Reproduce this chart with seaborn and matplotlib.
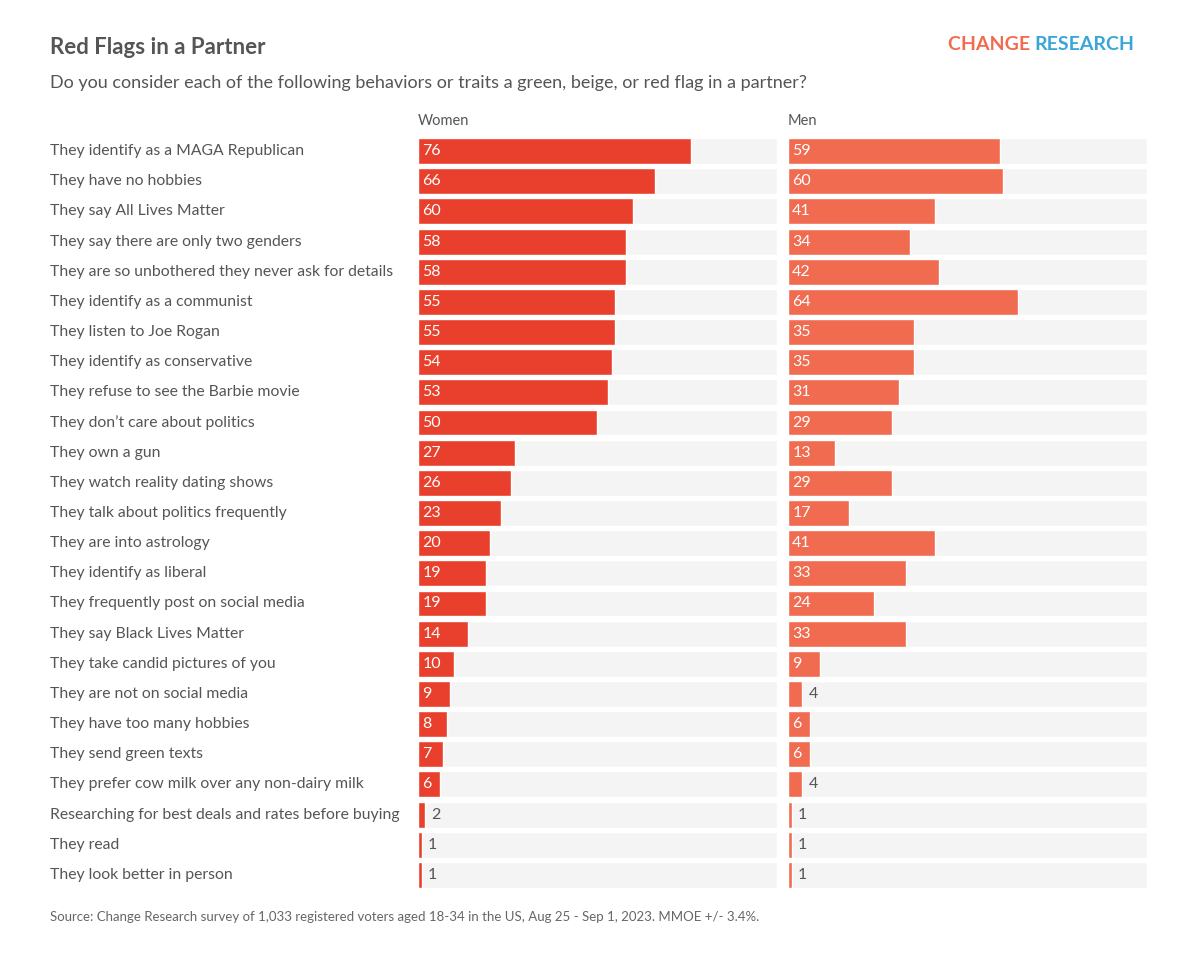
import matplotlib
matplotlib.use("Agg")
import matplotlib.pyplot as plt
import seaborn as sns
import pandas as pd

categories = ["They identify as a MAGA Republican","They have no hobbies","They say All Lives Matter",
"They say there are only two genders","They are so unbothered they never ask for details",
"They identify as a communist","They listen to Joe Rogan","They identify as conservative",
"They refuse to see the Barbie movie","They don\u2019t care about politics","They own a gun",
"They watch reality dating shows","They talk about politics frequently","They are into astrology",
"They identify as liberal","They frequently post on social media","They say Black Lives Matter",
"They take candid pictures of you","They are not on social media","They have too many hobbies",
"They send green texts","They prefer cow milk over any non-dairy milk",
"Researching for best deals and rates before buying","They read","They look better in person"]
women = [76,66,60,58,58,55,55,54,53,50,27,26,23,20,19,19,14,10,9,8,7,6,2,1,1]
men = [59,60,41,34,42,64,35,35,31,29,13,29,17,41,33,24,33,9,4,6,6,4,1,1,1]
track = [100]*len(categories)

sns.set_theme(style="white")
plt.rcParams['font.family'] = ['Lato', 'DejaVu Sans']
fig = plt.figure(figsize=(11.99, 9.56), dpi=100)
fig.patch.set_facecolor("white")

top_px, bot_px = 136, 890
def panel(left, vals, color, name):
    ax = fig.add_axes([left, 1 - bot_px/956, 0.2994, (bot_px - top_px)/956])
    df = pd.DataFrame({"cat": categories, "v": vals, "t": track})
    sns.barplot(data=df, y="cat", x="t", color="#F4F4F4", width=0.86, ax=ax, saturation=1, orient="h")
    sns.barplot(data=df, y="cat", x="v", color=color, width=0.86, ax=ax, saturation=1, orient="h")
    ax.set_xlim(0, 100)
    ax.set_ylim(len(categories) - 0.5, -0.5)
    ax.set_xlabel(""); ax.set_ylabel("")
    ax.set_xticks([]); ax.set_yticks([])
    for s in ax.spines.values():
        s.set_visible(False)
    for i, v in enumerate(vals):
        if v >= 5:
            ax.text(1.2, i, str(v), color="white", va="center", ha="left", fontsize=11.5)
        else:
            ax.text(v + 1.8, i, str(v), color="#555555", va="center", ha="left", fontsize=11.5)
    ax.text(0, -0.75, name, color="#555555", fontsize=10.5, va="bottom", ha="left")
    return ax

axw = panel(0.3486, women, "#E8402C", "Women")
axm = panel(0.6572, men, "#F06B50", "Men")
for i, c in enumerate(categories):
    axw.text(-(418 - 50) / 3.59, i, c, color="#555555", fontsize=11.3, va="center", ha="left")

fig.text(50/1199, 1-47/956, "Red Flags in a Partner", fontsize=16, fontweight="bold", color="#555555", va="center")
fig.text(50/1199, 1-83/956, "Do you consider each of the following behaviors or traits a green, beige, or red flag in a partner?",
         fontsize=13, color="#555555", va="center")
t1 = fig.text(948/1199, 1-44/956, "CHANGE ", fontsize=14, fontweight="bold", color="#F26B4E", va="center")
fig.canvas.draw()
bb = t1.get_window_extent()
fig.text(bb.x1/1199, 1-44/956, "RESEARCH", fontsize=14, fontweight="bold", color="#3AA6D8", va="center")
fig.text(50/1199, 1-917/956, "Source: Change Research survey of 1,033 registered voters aged 18-34 in the US, Aug 25 - Sep 1, 2023. MMOE +/- 3.4%.",
         fontsize=9.5, color="#666666", va="center")
fig.savefig("out.png", dpi=100, facecolor="white")
